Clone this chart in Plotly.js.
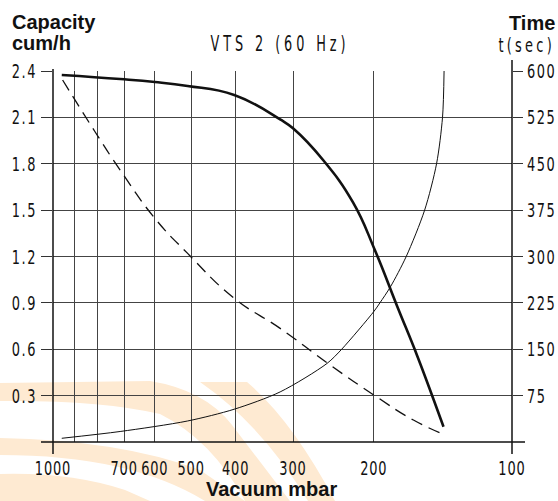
<!DOCTYPE html>
<html>
<head>
<meta charset="utf-8">
<script src="https://cdn.plot.ly/plotly-3.0.1.min.js"></script>
<style>
  html, body { margin: 0; padding: 0; background: #fff; }
  #chart { width: 558px; height: 501px; }
  .ytick text, .y2tick text { letter-spacing: 2.2px; }
  .xtick text { letter-spacing: 1.2px; }
</style>
</head>
<body>
<div id="chart"></div>
<script>
// ---- data ----
const pressureCapacity = [957, 714, 600, 509, 403, 320, 300, 258, 222, 199, 178, 161, 148, 141];
const capacity        = [2.374, 2.348, 2.329, 2.303, 2.245, 2.087, 2.029, 1.824, 1.55, 1.242, 0.88, 0.56, 0.27, 0.099];

const pressureDashed  = [953, 810, 714, 600, 509, 403, 320, 249, 200, 164, 141];
const dashedValues    = [2.342, 2.007, 1.759, 1.447, 1.22, 0.93, 0.735, 0.498, 0.304, 0.142, 0.05];

const pressureTime    = [957, 714, 509, 403, 320, 253, 235, 200, 194, 184, 170, 155, 146, 141.7, 140.6];
const timeSec         = [6, 17, 34, 53, 81, 127, 150, 211, 225, 251, 300, 375, 450, 525, 600];

const xTickVals = [1000, 900, 800, 700, 600, 500, 400, 300, 200, 100];
const xTickText = ['1000', '', '', '700', '600', '500', '400', '300', '200', '100'];
const yTickVals = [0.3, 0.6, 0.9, 1.2, 1.5, 1.8, 2.1, 2.4];
const yTickText = ['0.3', '0.6', '0.9', '1.2', '1.5', '1.8', '2.1', '2.4'];
const y2TickVals = [75, 150, 225, 300, 375, 450, 525, 600];
const y2TickText = ['75', '150', '225', '300', '375', '450', '525', '600'];

// ---- layout geometry (pixels) ----
const W = 558, H = 501;
const L = 53, R = 512, T = 71, B = 442;
const px = x => (x - L) / (R - L);
const py = y => (B - y) / (B - T);

const narrow = 'DejaVu Sans Condensed, DejaVu Sans, sans-serif';
const bold = 'Liberation Sans, Arial, Helvetica, sans-serif';

function pathFromPx(cmds) {
  return cmds.map(c => {
    const pts = [];
    for (let i = 1; i < c.length; i += 2) pts.push(px(c[i]).toFixed(4) + ',' + py(c[i + 1]).toFixed(4));
    return c[0] + ' ' + pts.join(' ');
  }).join(' ') + ' Z';
}
const wm = '#FEEAD2';
const watermark = [
  [['M', 0, 383], ['L', 150, 381], ['Q', 205, 390, 232, 425], ['L', 290, 501], ['L', 245, 501], ['Q', 212, 440, 160, 414], ['Q', 100, 400, 0, 401]],
  [['M', 200, 382], ['L', 247, 382], ['Q', 292, 420, 335, 501], ['L', 308, 501], ['Q', 262, 425, 200, 382]],
  [['M', 0, 438], ['Q', 120, 440, 200, 470], ['L', 245, 501], ['L', 205, 501], ['Q', 130, 455, 0, 455]],
  [['M', 0, 474], ['Q', 70, 472, 125, 490], ['L', 150, 501], ['L', 0, 501]]
].map(p => ({type: 'path', xref: 'paper', yref: 'paper', path: pathFromPx(p),
             fillcolor: wm, line: {width: 0}, layer: 'below'}));

const axisLine = {color: '#111', width: 1.5};
const shapes = watermark.concat([
  {type: 'line', xref: 'paper', yref: 'paper', x0: 0, x1: 0, y0: py(454), y1: py(69), line: axisLine, layer: 'above'},
  {type: 'line', xref: 'paper', yref: 'paper', x0: 1, x1: 1, y0: py(454), y1: py(60), line: axisLine, layer: 'above'},
  {type: 'line', xref: 'paper', yref: 'paper', x0: px(41), x1: px(525), y0: 0, y1: 0, line: axisLine, layer: 'above'}
]);

const traces = [
  {x: pressureCapacity, y: capacity, type: 'scatter', mode: 'lines',
   line: {color: '#111', width: 2.6, shape: 'spline', smoothing: 1.3}, hoverinfo: 'skip'},
  {x: pressureDashed, y: dashedValues, type: 'scatter', mode: 'lines',
   line: {color: '#111', width: 1.3, dash: '12px,7px', shape: 'spline', smoothing: 1.3}, hoverinfo: 'skip'},
  {x: pressureTime, y: timeSec, type: 'scatter', mode: 'lines', yaxis: 'y2',
   line: {color: '#111', width: 1, shape: 'spline', smoothing: 0.8}, hoverinfo: 'skip'}
];

const tickFont = {family: narrow, size: 20, color: '#111'};

const layout = {
  width: W, height: H,
  margin: {l: L, r: W - R, t: T, b: H - B, pad: 0},
  paper_bgcolor: '#fff', plot_bgcolor: 'rgba(0,0,0,0)',
  showlegend: false,
  title: {text: 'VTS 2 (60 Hz)', x: 280 / W, xref: 'container', xanchor: 'center',
          y: 1 - 43 / H, yref: 'container', yanchor: 'middle',
          font: {family: narrow, size: 22, color: '#111'}},
  xaxis: {type: 'log', range: [3, 2], autorange: false,
          tickvals: xTickVals, ticktext: xTickText, ticks: '', tickangle: 0,
          ticklabelstandoff: 12,
          showgrid: true, gridcolor: '#444', gridwidth: 1,
          zeroline: false, showline: false, tickfont: tickFont},
  yaxis: {range: [0, 2.4], autorange: false,
          tickvals: yTickVals, ticktext: yTickText,
          ticks: 'outside', ticklen: 11, tickcolor: '#333', tickwidth: 1,
          ticklabelstandoff: 0,
          showgrid: true, gridcolor: '#444', gridwidth: 1,
          zeroline: false, showline: false, tickfont: tickFont},
  yaxis2: {range: [0, 600], autorange: false, overlaying: 'y', side: 'right',
           tickvals: y2TickVals, ticktext: y2TickText,
           ticks: 'outside', ticklen: 10, tickcolor: '#333', tickwidth: 1,
           ticklabelstandoff: 0,
           showgrid: false, zeroline: false, showline: false, tickfont: tickFont},
  shapes: shapes,
  annotations: [
    {text: 'Capacity', xref: 'paper', yref: 'paper', x: px(10), y: py(22), xanchor: 'left', yanchor: 'middle',
     showarrow: false, font: {family: bold, size: 20, weight: 'bold', color: '#111'}},
    {text: 'cum/h', xref: 'paper', yref: 'paper', x: px(10), y: py(43), xanchor: 'left', yanchor: 'middle',
     showarrow: false, font: {family: bold, size: 20, weight: 'bold', color: '#111'}},
    {text: 'Time', xref: 'paper', yref: 'paper', x: px(557), y: py(23), xanchor: 'right', yanchor: 'middle',
     showarrow: false, font: {family: bold, size: 20, weight: 'bold', color: '#111'}},
    {text: 't(sec)', xref: 'paper', yref: 'paper', x: px(526), y: py(45), xanchor: 'center', yanchor: 'middle',
     showarrow: false, font: {family: narrow, size: 20, color: '#111'}},
    {text: 'Vacuum mbar', xref: 'paper', yref: 'paper', x: px(271), y: py(489), xanchor: 'center', yanchor: 'middle',
     showarrow: false, font: {family: bold, size: 20, weight: 'bold', color: '#111'}}
  ]
};

// Horizontally condense a text element around a pivot (fraction of its width)
function squeeze(el, s, fx) {
  const bb = el.getBBox();
  const p = bb.x + bb.width * fx;
  const t = el.getAttribute('transform') || '';
  el.setAttribute('transform', t + ' translate(' + p + ',0) scale(' + s + ',1) translate(' + (-p) + ',0)');
}
function squeezeAll(sel, s, fx) {
  document.querySelectorAll(sel).forEach(el => squeeze(el, s, fx));
}

Plotly.newPlot('chart', traces, layout, {displayModeBar: false, staticPlot: true}).then(() => {
  squeezeAll('.xtick text', 0.72, 0.5);
  squeezeAll('.ytick text', 0.72, 1);
  squeezeAll('.y2tick text', 0.72, 0);
  document.querySelectorAll('.gtitle').forEach(el => {
    el.style.letterSpacing = '6px';
    squeeze(el, 0.65, 0.5);
  });
  document.querySelectorAll('.annotation-text').forEach(el => {
    if (el.textContent === 't(sec)') {
      el.style.letterSpacing = '4.5px';
      squeeze(el, 0.72, 0.5);
    }
  });
});
</script>
</body>
</html>
